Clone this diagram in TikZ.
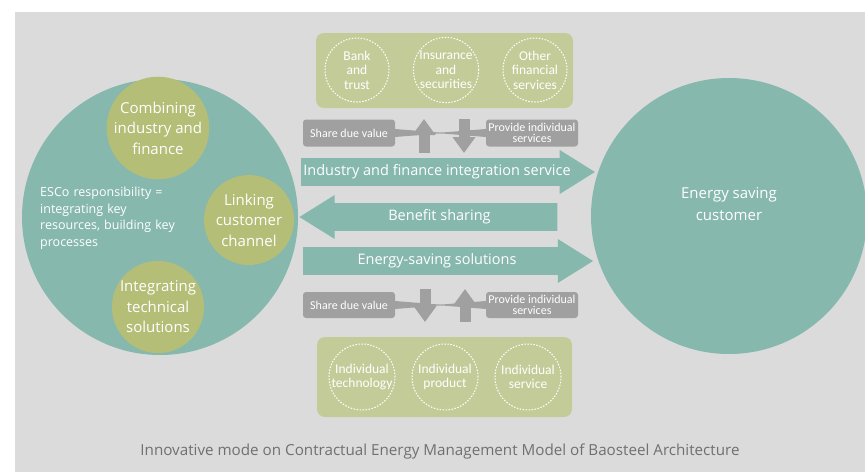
\documentclass[tikz,border=0pt]{standalone}
\usepackage{fontspec}
\setmainfont{Open Sans}
\newfontfamily\narrowfont{Carlito}
\usetikzlibrary{shapes.arrows,shapes.callouts,arrows.meta,positioning}
\definecolor{bgGray}{HTML}{DBDBDB}
\definecolor{tealFill}{HTML}{86B8AE}
\definecolor{oliveFill}{HTML}{B4BE76}
\definecolor{boxFill}{HTML}{C3CC98}
\definecolor{noteGray}{HTML}{A0A0A0}
\definecolor{capGray}{HTML}{707070}

\begin{document}
\begin{tikzpicture}[x=1pt,y=-1pt,
  big node/.style={circle,fill=tealFill,minimum size=276pt,inner sep=0pt},
  role node/.style={circle,fill=oliveFill,minimum size=90pt,inner sep=0pt,text=white,align=center,font=\fontsize{15}{20.5}\selectfont},
  group box/.style={rounded corners=8pt,fill=boxFill,inner sep=0pt},
  part node/.style={circle,draw=white,line width=1pt,dash pattern=on 1.5pt off 1.5pt,minimum size=64pt,inner sep=0pt,text=white,align=center,font=\narrowfont\fontsize{13.5}{14.5}\selectfont},
  flow node/.style={single arrow,fill=tealFill,minimum width=44pt,single arrow head extend=8pt,single arrow tip angle=64,inner xsep=2pt,inner ysep=6pt,text=white,font=\fontsize{14.5}{16}\selectfont},
  note node/.style={rectangle callout,fill=noteGray,rounded corners=3pt,minimum width=92pt,minimum height=27pt,inner sep=1pt,callout pointer width=8pt,text=white,align=center,font=\narrowfont\fontsize{12}{11.5}\selectfont},
  pass arrow/.style={line width=11pt,draw=noteGray,-{Triangle[width=22pt,length=16pt]}}]

\useasboundingbox (0,0) rectangle (865,472);
\clip (0,0) rectangle (865,472);
\fill[bgGray] (15,12) rectangle (865,472);

% ESCo side
\node[big node] (esco) at (160,217) {};
\node[text=white,align=left,text width=165pt,anchor=west,inner sep=0pt,font=\fontsize{12.5}{16.5}\selectfont] (resp) at (40,218) {ESCo responsibility =\\integrating key\\resources, building key\\processes};
\node[role node] (comb) at (158,128) {Combining\\industry and\\finance};
\node[role node] (link) at (249,220) {Linking\\customer\\channel};
\node[role node] (tech) at (158,307) {Integrating\\technical\\solutions};

% customer side
\node[big node] (cust) at (729,216) {};
\node[text=white,align=center,font=\fontsize{15}{22}\selectfont] (custtxt) at (729,204) {Energy saving\\customer};

% financial partners
\node[group box,minimum width=257pt,minimum height=75pt] (fin) at (444.5,70.5) {};
\node[part node] (bank) at (357,70) {Bank\\and\\trust};
\node[part node] (ins) [right of=bank,node distance=89pt] {Insurance\\and\\securities};
\node[part node] (oth) [right of=ins,node distance=89pt] {Other\\financial\\services};

% technical partners
\node[group box,minimum width=255pt,minimum height=80pt] (tec) at (444.5,377) {};
\node[part node,minimum size=66pt] (itec) at (362,377) {Individual\\technology};
\node[part node,minimum size=66pt] (iprod) [right of=itec,node distance=83pt] {Individual\\product};
\node[part node,minimum size=66pt] (iserv) [right of=iprod,node distance=83pt] {Individual\\service};

% flows
\node[flow node,minimum height=290pt] (f1) at (437,172) {Industry and finance integration service};
\node[flow node,minimum height=258pt,shape border rotate=180] (f2) at (439.5,217) {Benefit sharing};
\node[flow node,minimum height=290pt] (f3) at (437,261) {Energy-saving solutions};

% value exchange
\node[note node,callout relative pointer={(50,0)}] (n1) at (349,133) {Share due value};
\node[note node,callout relative pointer={(-50,0)}] (n2) at (532,133) {Provide individual\\services};
\node[note node,minimum height=26pt,callout relative pointer={(50,0)}] (n3) at (349,305) {Share due value};
\node[note node,minimum height=26pt,callout relative pointer={(-50,0)}] (n4) at (532,305) {Provide individual\\services};

\coordinate (a1) at (424,153);
\coordinate (a2) at (424,119);
\coordinate (b1) at (464,119);
\coordinate (b2) at (464,153);
\coordinate (c1) at (425,289);
\coordinate (c2) at (425,322);
\coordinate (d1) at (465,322);
\coordinate (d2) at (465,289);
\draw[pass arrow] (a1) -- (a2);
\draw[pass arrow] (b1) -- (b2);
\draw[pass arrow] (c1) -- (c2);
\draw[pass arrow] (d1) -- (d2);

\node[text=capGray,font=\fontsize{15.2}{17}\selectfont] (cap) at (440,452) {Innovative mode on Contractual Energy Management Model of Baosteel Architecture};
\end{tikzpicture}
\end{document}
